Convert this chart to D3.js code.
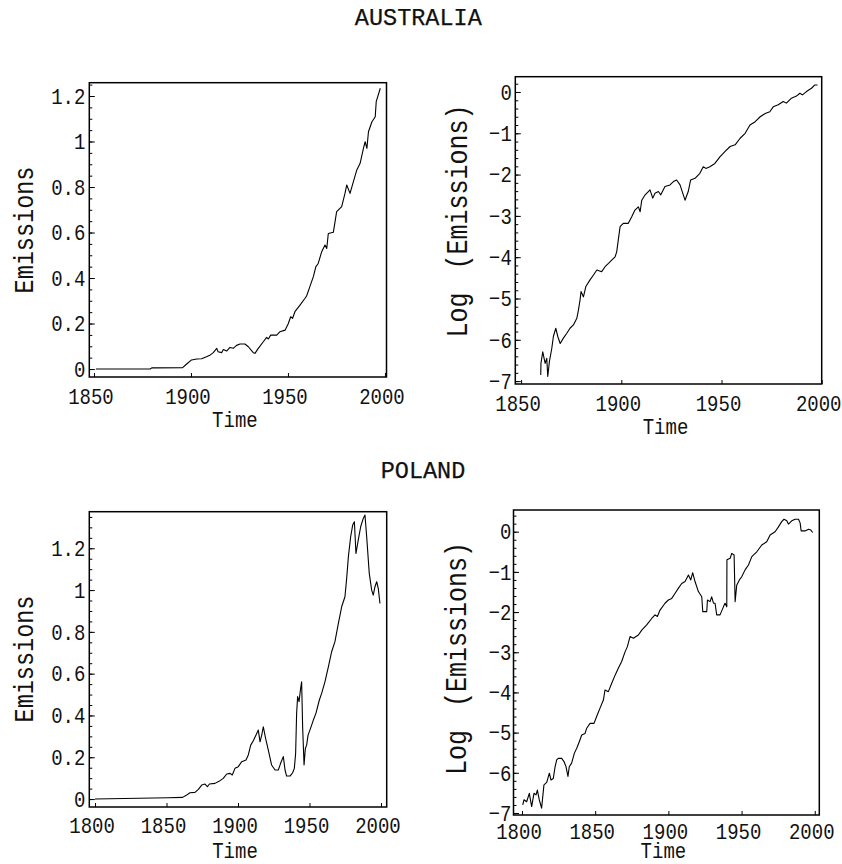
<!DOCTYPE html>
<html>
<head>
<meta charset="utf-8">
<script src="https://d3js.org/d3.v7.min.js"></script>
<style>
body { margin: 0; background: #fff; }
</style>
</head>
<body>
<div id="chart"></div>
<script>
// data (year, value)

var ausYears = [1851, 1879, 1880, 1881, 1895.7, 1897.8, 1900.3, 1903, 1905.5, 1908, 1910, 1911.5, 1913.3, 1914,
    1915.8, 1916.7, 1918.4, 1920.1, 1921.8, 1923.5, 1925.3, 1927.8, 1929.6, 1932.1, 1933, 1934.7, 1937.3, 1939,
    1939.9, 1941.1, 1944.2, 1945.9, 1948.5, 1950.2, 1951.4, 1952.4, 1953.6, 1956.2, 1958.8, 1959.6, 1961.3, 1963.1,
    1964.4, 1965.6, 1967.4, 1969.1, 1970, 1970.8, 1973.4, 1975.1, 1977.7, 1979.4, 1980.3, 1982, 1983.7, 1985.5,
    1987.2, 1988.9, 1989.8, 1990.7, 1991.5, 1993.3, 1995, 1995.5, 1997.6];
var ausEmissions = [0, 0, 0.006, 0.005, 0.006, 0.022, 0.04, 0.044, 0.045, 0.054, 0.062, 0.072, 0.091, 0.076,
    0.072, 0.086, 0.079, 0.095, 0.091, 0.104, 0.11, 0.11, 0.098, 0.072, 0.069, 0.091, 0.12, 0.139,
    0.132, 0.149, 0.149, 0.164, 0.171, 0.2, 0.23, 0.223, 0.252, 0.281, 0.311, 0.321, 0.362, 0.406,
    0.45, 0.464, 0.516, 0.545, 0.53, 0.596, 0.601, 0.692, 0.714, 0.772, 0.809, 0.772, 0.823, 0.875,
    0.904, 0.97, 0.999, 0.97, 1.043, 1.087, 1.109, 1.175, 1.234];

var ausLogYears = [1859.8, 1859.9, 1860.8, 1862, 1862.8, 1863.3, 1864.1, 1865.3, 1866.1, 1867.3, 1868.3, 1869.5,
    1871.1, 1872.8, 1874.4, 1876.1, 1877.8, 1878.6, 1879.4, 1879.9, 1881.1, 1882.3, 1884.4, 1886.1, 1887.8,
    1890.2, 1891.9, 1893.6, 1895.2, 1896.9, 1897.7, 1898.5, 1899.4, 1901, 1903.5, 1905.2, 1906.8, 1908.5,
    1909.4, 1910.2, 1911.9, 1913.5, 1914.3, 1915.7, 1916.8, 1918.5, 1919.7, 1921.8, 1924.3, 1926, 1927.6,
    1929.3, 1931.8, 1933.4, 1934.6, 1936.8, 1939.2, 1940.9, 1942.2, 1944.2, 1946.7, 1949.2, 1951.8, 1954.3,
    1956.8, 1959.3, 1961.8, 1964.2, 1966.8, 1969.3, 1971.8, 1974.1, 1975.8, 1978.3, 1980.8, 1982.4, 1984.9,
    1987.4, 1989.1, 1990.4, 1992.4, 1994.9, 1996.6, 1997.9];
var ausLogEmissions = [-6.85, -6.57, -6.29, -6.57, -6.45, -6.89, -6.53, -6.21, -5.92, -5.72, -5.92, -6.09,
    -5.96, -5.84, -5.72, -5.64, -5.48, -5.28, -5.04, -4.83, -4.96, -4.71, -4.55, -4.43, -4.31,
    -4.35, -4.23, -4.15, -4.07, -3.99, -3.87, -3.58, -3.26, -3.18, -3.18, -3.02, -2.86, -2.78,
    -2.9, -2.62, -2.49, -2.41, -2.37, -2.57, -2.45, -2.41, -2.49, -2.29, -2.25, -2.17, -2.13,
    -2.25, -2.62, -2.41, -2.13, -2.09, -1.97, -1.81, -1.85, -1.81, -1.73, -1.57, -1.44, -1.32,
    -1.28, -1.12, -1.0, -0.8, -0.72, -0.6, -0.52, -0.48, -0.36, -0.31, -0.23, -0.27, -0.15,
    -0.1, -0.03, -0.07, 0.01, 0.09, 0.17, 0.17];

var polYears = [1800, 1851.3, 1861.3, 1864.1, 1866.4, 1869.9, 1872.3, 1874.6, 1876.9, 1878.6, 1880, 1883.9,
    1887.4, 1889.7, 1892.1, 1894.4, 1896, 1897.9, 1900.2, 1902.6, 1905.6, 1907.2, 1908.9, 1910.7, 1912.6,
    1914.2, 1915.4, 1916.6, 1917.7, 1919.3, 1921.2, 1923.5, 1925.9, 1928.2, 1929.8, 1931.7, 1932.9, 1934,
    1936.4, 1938.2, 1939.4, 1940.3, 1941, 1941.7, 1942.7, 1943.8, 1944.5, 1945.2, 1946.2, 1947.1, 1948,
    1949, 1950.3, 1952.7, 1954.5, 1956.9, 1958.5, 1960.8, 1963.2, 1965.5, 1967.8, 1970.2, 1972.5, 1974.8,
    1976, 1977.2, 1978.8, 1980.2, 1981.4, 1982.5, 1984.1, 1985.8, 1987.6, 1988.8, 1990, 1991.8, 1993.5,
    1994.6, 1995.8, 1997, 1998.1, 1999.3];
var polEmissions = [0, 0.006, 0.008, 0.019, 0.03, 0.032, 0.046, 0.067, 0.072, 0.059, 0.072, 0.075,
    0.088, 0.099, 0.12, 0.123, 0.115, 0.147, 0.155, 0.179, 0.187, 0.211, 0.258, 0.279, 0.306,
    0.33, 0.274, 0.306, 0.346, 0.29, 0.234, 0.163, 0.139, 0.139, 0.171, 0.203, 0.139, 0.11,
    0.11, 0.126, 0.147, 0.218, 0.41, 0.49, 0.466, 0.53, 0.561, 0.346, 0.163, 0.242, 0.258,
    0.306, 0.33, 0.378, 0.41, 0.474, 0.506, 0.561, 0.633, 0.705, 0.753, 0.841, 0.92, 0.968,
    1.056, 1.16, 1.255, 1.311, 1.327, 1.175, 1.239, 1.303, 1.343, 1.359, 1.255, 1.08, 1.0,
    0.976, 1.016, 1.04, 1.008, 0.936];

var polLogYears = [1800.5, 1801.4, 1803.2, 1805, 1806.6, 1808.2, 1809.6, 1810.5, 1811.8, 1813.4, 1815, 1816.9,
    1818.7, 1819.8, 1821.4, 1822.6, 1823.7, 1824.8, 1827.1, 1828.7, 1830.1, 1831.4, 1832.3, 1833.9, 1835.8,
    1837.4, 1839.2, 1840.8, 1843.1, 1844.2, 1846.5, 1849.2, 1851, 1853.3, 1855.6, 1856.7, 1859, 1861.3,
    1863.6, 1865.8, 1868.1, 1870.4, 1872, 1873.8, 1876.1, 1879.5, 1881.8, 1885.2, 1888.6, 1890.9, 1892.5,
    1894.3, 1897.7, 1900, 1902.3, 1904.6, 1906.8, 1909.1, 1911.4, 1913.7, 1915.3, 1916.6, 1918.2, 1920.5,
    1922.8, 1923.5, 1926.2, 1926.7, 1928.5, 1929.6, 1930.8, 1931.9, 1933, 1935.3, 1937.6, 1938.7, 1939.9,
    1940, 1942.2, 1943.3, 1944.9, 1945.6, 1946.7, 1948.5, 1950.1, 1952.4, 1954.7, 1957, 1960.4, 1963.8,
    1967.2, 1969.5, 1972.9, 1975.2, 1977.4, 1979, 1980.9, 1982, 1984.3, 1986.6, 1988.9, 1990, 1990.7,
    1993.4, 1995.7, 1997.3, 1998.6];
var polLogEmissions = [-6.8, -6.67, -6.72, -6.51, -6.84, -6.51, -6.55, -6.43, -6.67, -6.88, -6.3, -6.24,
    -6.01, -6.18, -6.14, -5.85, -5.68, -5.64, -5.64, -5.72, -5.85, -6.09, -5.85, -5.76, -5.51,
    -5.39, -5.22, -5.06, -5.02, -4.89, -4.77, -4.77, -4.6, -4.39, -4.19, -3.94, -3.98, -3.77,
    -3.57, -3.4, -3.23, -2.99, -2.86, -2.61, -2.65, -2.57, -2.45, -2.32, -2.16, -2.07, -2.11,
    -1.95, -1.78, -1.7, -1.66, -1.53, -1.41, -1.29, -1.24, -1.08, -1.2, -1.02, -1.24, -1.49,
    -1.62, -1.99, -1.99, -1.7, -1.74, -1.62, -1.78, -1.78, -2.07, -2.07, -1.87, -1.78, -1.87,
    -0.7, -0.66, -0.54, -0.58, -1.74, -1.33, -1.2, -1.12, -0.95, -0.83, -0.62, -0.5, -0.33,
    -0.25, -0.08, 0, 0.12, 0.25, 0.31, 0.27, 0.19, 0.27, 0.31, 0.31, 0.22, 0.02,
    0.02, 0.06, 0.04, -0.02];

// tick values and labels

var emissionTicks = [0, 0.2, 0.4, 0.6, 0.8, 1, 1.2];
var logTicks = [-7, -6, -5, -4, -3, -2, -1, 0];
var ausYearTicks = [1850, 1900, 1950, 2000];
var polYearTicks = [1800, 1850, 1900, 1950, 2000];
var titles = ["AUSTRALIA", "POLAND"];
var xLabel = "Time";
var yLabels = ["Emissions", "Log (Emissions)"];

// define size of chart and create svg element

var w = 842,
    h = 864,
    svg = d3.select("#chart")
            .append("svg")
            .attr("width", w)
            .attr("height", h);

var font = "'Liberation Mono', 'Courier New', monospace";
var stretch = 1.2;

var panels = [
    {years: ausYears, values: ausEmissions, yTicks: emissionTicks, xTicks: ausYearTicks,
     minor: d3.range(0, 1.26, 0.05), yLabel: yLabels[0],
     left: 89.3, right: 386.5, top: 82.7, bottom: 377,
     xDomain: [1847.6, 2000.8], yDomain: [-0.035, 1.2585],
     pad: 4, tickBase: 27, timeBase: 427, labelX: 33, labelY: 230, labelSize: 23.5},
    {years: ausLogYears, values: ausLogEmissions, yTicks: logTicks, xTicks: ausYearTicks,
     minor: d3.range(-7, 0.3, 0.2), yLabel: yLabels[1],
     left: 515.3, right: 821.7, top: 76.7, bottom: 384,
     xDomain: [1847.1, 2000], yDomain: [-7.07, 0.37],
     pad: 3.5, tickBase: 27.5, timeBase: 434, labelX: 466.7, labelY: 221, labelSize: 25},
    {years: polYears, values: polEmissions, yTicks: emissionTicks, xTicks: polYearTicks,
     minor: d3.range(0, 1.36, 0.05), yLabel: yLabels[0],
     left: 89.3, right: 386.7, top: 511.7, bottom: 807,
     xDomain: [1796, 2004], yDomain: [-0.038, 1.375],
     pad: 4, tickBase: 26.3, timeBase: 858, labelX: 33, labelY: 659, labelSize: 23.5},
    {years: polLogYears, values: polLogEmissions, yTicks: logTicks, xTicks: polYearTicks,
     minor: d3.range(-7, 0.5, 0.2), yLabel: yLabels[1],
     left: 513.5, right: 819.3, top: 510, bottom: 815,
     xDomain: [1794.2, 2003.1], yDomain: [-7.05, 0.54],
     pad: 2, tickBase: 24, timeBase: 858, labelX: 465.5, labelY: 658.5, labelSize: 25}
];

function formatTick(d) {
    var s = String(+Math.abs(d).toFixed(2));
    return d < 0 ? "\u2212" + s : s;
}

function render() {
    panels.forEach(drawPanel);

    // panel titles
    render_text(titles[0], 418.3, 25);
    render_text(titles[1], 423, 478);
}

function drawPanel(p) {
    var x = d3.scaleLinear().domain(p.xDomain).range([p.left, p.right]);
    var y = d3.scaleLinear().domain(p.yDomain).range([p.bottom, p.top]);
    var g = svg.append("g");

    // minor ticks on the left edge
    var minorAxis = g.append("g")
        .attr("transform", "translate(" + p.left + ",0)")
        .call(d3.axisLeft(y).tickValues(p.minor).tickSizeInner(-3).tickSizeOuter(0).tickFormat(""));
    minorAxis.select(".domain").remove();
    minorAxis.selectAll("line").attr("stroke", "#000");

    // major ticks and labels on the left edge
    var yAxis = g.append("g")
        .attr("transform", "translate(" + p.left + ",0)")
        .call(d3.axisLeft(y).tickValues(p.yTicks).tickSizeInner(-5.5).tickSizeOuter(0)
              .tickPadding(p.pad).tickFormat(formatTick));
    yAxis.select(".domain").remove();
    yAxis.attr("font-family", font).attr("font-size", 19);
    yAxis.selectAll("line").attr("stroke", "#000");
    yAxis.selectAll("text")
        .attr("fill", "#111")
        .attr("transform", "scale(1," + stretch + ")");

    // ticks and labels on the bottom edge
    var xAxis = g.append("g")
        .attr("transform", "translate(0," + p.bottom + ")")
        .call(d3.axisBottom(x).tickValues(p.xTicks).tickSizeInner(-4).tickSizeOuter(0)
              .tickFormat(d3.format("d")));
    xAxis.select(".domain").remove();
    xAxis.attr("font-family", font).attr("font-size", 19);
    xAxis.selectAll("line").attr("stroke", "#000");
    xAxis.selectAll("text")
        .attr("fill", "#111")
        .attr("x", -3.5)
        .attr("dy", null)
        .attr("y", p.tickBase / stretch)
        .attr("transform", "scale(1," + stretch + ")");

    // frame
    g.append("rect")
        .attr("x", p.left)
        .attr("y", p.top)
        .attr("width", p.right - p.left)
        .attr("height", p.bottom - p.top)
        .attr("fill", "none")
        .attr("stroke", "#000")
        .attr("stroke-width", 1.5);

    // the data line
    var line = d3.line()
        .x(function(d) { return x(d[0]); })
        .y(function(d) { return y(d[1]); });

    g.append("path")
        .datum(d3.zip(p.years, p.values))
        .attr("fill", "none")
        .attr("stroke", "#000")
        .attr("stroke-width", 1.1)
        .attr("stroke-linejoin", "round")
        .attr("d", line);

    // axis titles
    var cx = (p.left + p.right) / 2 - 3;
    g.append("text")
        .attr("transform", "translate(" + cx + "," + p.timeBase + ") scale(1," + stretch + ")")
        .attr("text-anchor", "middle")
        .attr("font-family", font)
        .attr("font-size", 19)
        .attr("fill", "#111")
        .text(xLabel);

    g.append("text")
        .attr("transform", "translate(" + p.labelX + "," + p.labelY + ") rotate(-90) scale(1,1.15)")
        .attr("text-anchor", "middle")
        .attr("font-family", font)
        .attr("font-size", p.labelSize)
        .attr("word-spacing", 8)
        .attr("fill", "#111")
        .text(p.yLabel);
}

function render_text(text, x, y) {
    svg.append("text")
        .attr("font-family", font)
        .attr("font-size", 23.5)
        .attr("text-anchor", "middle")
        .attr("fill", "#111")
        .attr("stroke", "#111")
        .attr("stroke-width", 0.25)
        .attr("x", x)
        .attr("y", y)
        .text(text);
}

render();
</script>
</body>
</html>
